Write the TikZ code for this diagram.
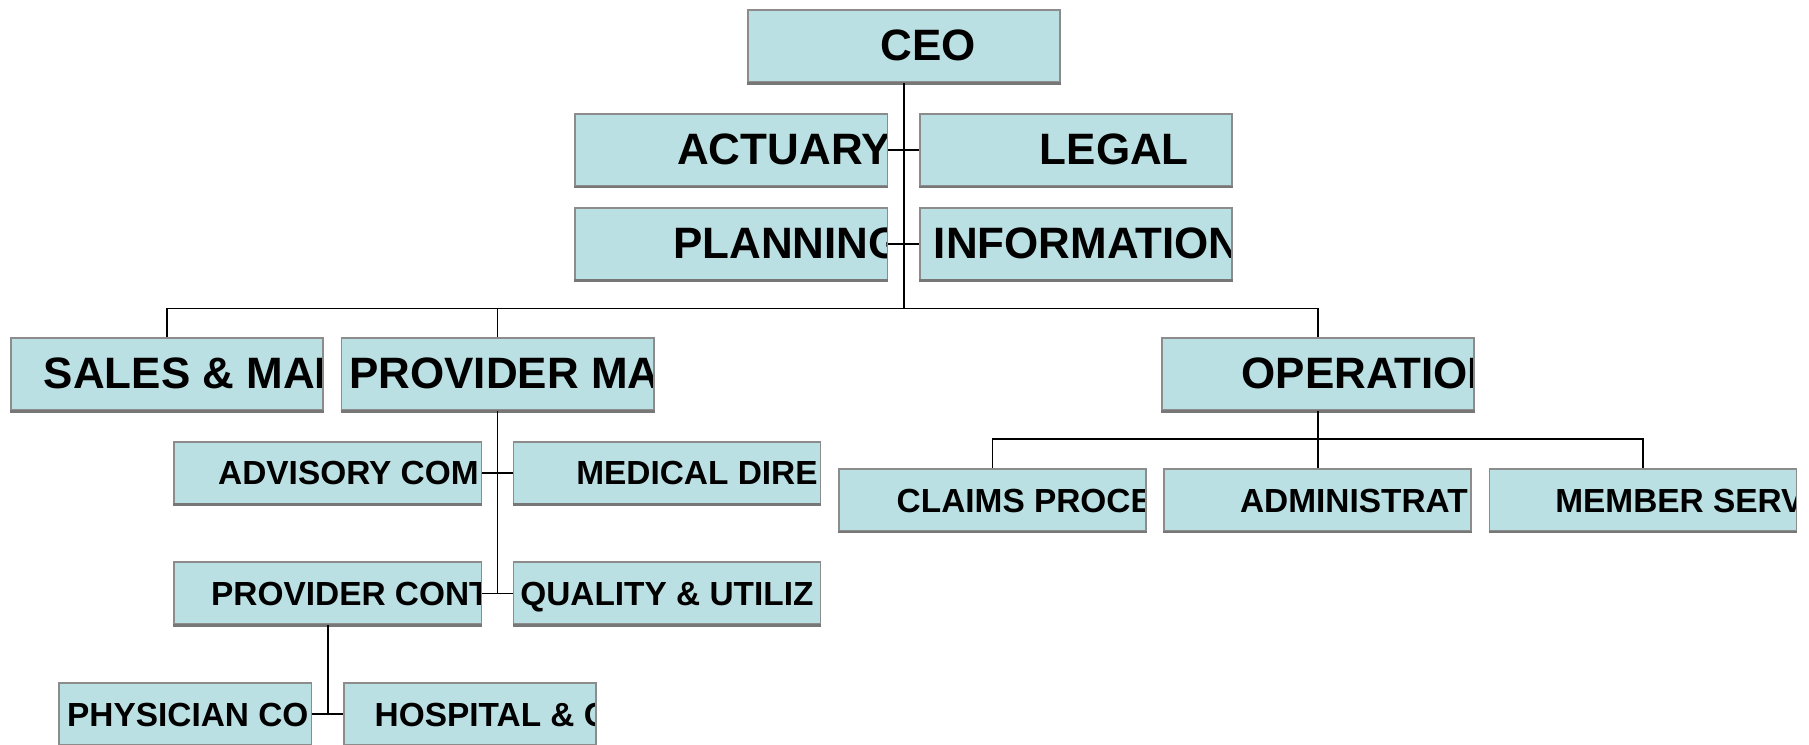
\documentclass[tikz,border=0pt]{standalone}
\usepackage{fontspec}
\setmainfont{Liberation Sans}
\usepackage{xcolor}
\definecolor{BoxFill}{HTML}{BBE0E3}
\definecolor{BoxBorder}{HTML}{8C8C8C}
\usepackage{tikz}
\usetikzlibrary{calc}

\begin{document}
\begin{tikzpicture}[
  x=0.01cm, y=-0.01cm,
  bigbox/.style={
    draw=BoxBorder,
    fill=BoxFill,
    line width=0.5pt,
    inner sep=0pt,
    minimum width=3.12cm,
    minimum height=0.72cm,
    append after command={
      (\tikzlastnode.south west) edge[draw=BoxBorder!85!black, line width=0.8pt]
      (\tikzlastnode.south east)}},
  smallbox/.style={
    bigbox,
    minimum width=3.07cm,
    minimum height=0.62cm},
  shortbox/.style={
    smallbox,
    minimum width=2.52cm},
  boxtext/.style={
    anchor=base west,
    inner sep=0pt,
    minimum size=0pt,
    draw=none,
    fill=none},
  % text starts at a fixed offset from the left side and is clipped by the box
  biglabel/.style 2 args={
    path picture={
      \node[boxtext, font=\fontsize{12.5}{14}\selectfont\bfseries]
        at ([xshift=#1, yshift=-0.145cm]path picture bounding box.west) {#2};}},
  smalllabel/.style 2 args={
    path picture={
      \node[boxtext, font=\fontsize{9.5}{11}\selectfont\bfseries]
        at ([xshift=#1, yshift=-0.12cm]path picture bounding box.west) {#2};}},
  conn/.style={
    draw=black,
    line width=0.45pt},
]
\useasboundingbox (0,0) rectangle (1809,744);

% top level
\node[bigbox, biglabel={1.32cm}{CEO}] (ceo) at (903.8,46.3) {};

\node[bigbox, biglabel={1.01cm}{ACTUARY}]    (actuary)  at (731.4,150) {};
\node[bigbox, biglabel={1.19cm}{LEGAL}]      (legal)    at (1076,150) {};
\node[bigbox, biglabel={0.97cm}{PLANNING}]   (planning) at (731.4,243.7) {};
\node[bigbox, biglabel={0.13cm}{INFORMATION}] (infosys) at (1076,243.7) {};

% divisions
\node[bigbox, biglabel={0.32cm}{SALES \& MAR}] (sales)    at (167,374.2) {};
\node[bigbox, biglabel={0.07cm}{PROVIDER MA}]  (provider) at (497.6,374.2) {};
\node[bigbox, biglabel={0.79cm}{OPERATION}]    (ops)      at (1317.7,374.2) {};

% provider side
\node[smallbox, smalllabel={0.43cm}{ADVISORY COM}]      (advisory) at (327.9,472.9) {};
\node[smallbox, smalllabel={0.62cm}{MEDICAL DIRE}]      (medical)  at (667,472.9) {};
\node[smallbox, smalllabel={0.36cm}{PROVIDER CONT}]     (contract) at (327.9,593.3) {};
\node[smallbox, smalllabel={0.06cm}{QUALITY \& UTILIZ}] (quality)  at (667,593.3) {};

\node[shortbox, smalllabel={0.07cm}{PHYSICIAN CO}] (physician) at (185.4,714) {};
\node[shortbox, smalllabel={0.30cm}{HOSPITAL \& C}] (hospital) at (469.9,714) {};

% operations side
\node[smallbox, smalllabel={0.57cm}{CLAIMS PROCE}] (claims) at (992.4,500) {};
\node[smallbox, smalllabel={0.75cm}{ADMINISTRAT}]  (admin)  at (1317.7,500) {};
\node[smallbox, smalllabel={0.65cm}{MEMBER SERV}]  (member) at (1643,500) {};

\coordinate (topbus) at (903.8,308.3);
\coordinate (opsbus) at (1317.7,439);

% connectors
\draw[conn] (ceo.south) -- (topbus);
\draw[conn] (actuary.east) -- (legal.west);
\draw[conn] (planning.east) -- (infosys.west);
\draw[conn] (sales.north) -- (sales.north |- topbus) -- (ops.north |- topbus) -- (ops.north);
\draw[conn] (provider.north) -- (provider.north |- topbus);

\draw[conn] (provider.south) -- (provider.south |- quality.west);
\draw[conn] (advisory.east) -- (medical.west);
\draw[conn] (contract.east) -- (quality.west);
\draw[conn] (contract.south) -- (contract.south |- hospital.west);
\draw[conn] (physician.east) -- (hospital.west);

\draw[conn] (ops.south) -- (admin.north);
\draw[conn] (claims.north) -- (claims.north |- opsbus) -- (member.north |- opsbus) -- (member.north);

\end{tikzpicture}
\end{document}
